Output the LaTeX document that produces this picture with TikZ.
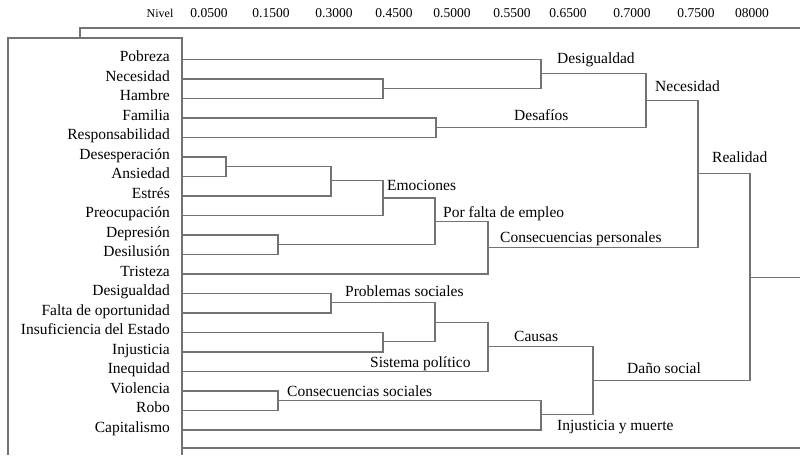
\documentclass[tikz,border=0pt]{standalone}
\usepackage{fontspec}
\setmainfont{Liberation Serif}
\usepackage{tikz}
\usetikzlibrary{calc,positioning}

\tikzset{
  rama/.style={draw=black!55, line width=1.1pt},
  hoja/.style={anchor=mid east, inner sep=0pt, font=\fontsize{15.5}{18}\selectfont},
  grupo/.style={anchor=base west, inner sep=0pt, font=\fontsize{15.5}{18}\selectfont},
  nivel/.style={anchor=base, inner sep=0pt, font=\fontsize{13.5}{15}\selectfont}
}

\begin{document}
\begin{tikzpicture}[x=1pt, y=-1pt]
\useasboundingbox (0,0) rectangle (800,455);

% Nivel
\node[nivel, font=\fontsize{12}{14}\selectfont] (niv) at (160,17) {Nivel};
\foreach \t/\xx [count=\k] in {0.0500/209, 0.1500/271, 0.3000/334, 0.4500/394, 0.5000/452,
  0.5500/512, 0.6500/568, 0.7000/632, 0.7500/696, 08000/752}
  \node[nivel] (n\k) at (\xx,17) {\t};

% Marco
\draw[rama] (8,455) -- (8,38) -- (182,38) -- (182,455);
\draw[rama] (80,38) -- (80,28) -- (800,28);
\draw[rama] (182,448) -- (800,448);

% Hojas
\foreach \t [count=\i] in {Pobreza, Necesidad, Hambre, Familia, Responsabilidad,
  Desesperación, Ansiedad, Estrés, Preocupación, Depresión, Desilusión, Tristeza,
  Desigualdad, Falta de oportunidad, Insuficiencia del Estado, Injusticia, Inequidad,
  Violencia, Robo, Capitalismo}
{
  \node[hoja] (h\i) at (170,{59.5+19.5*(\i-1)}) {\t};
  \coordinate (r\i) at (182,{59.5+19.5*(\i-1)});
}

% Uniones
\coordinate (a) at (226,166.25);
\coordinate (b) at (331,180.9);
\coordinate (c) at (383,198);
\coordinate (d) at (278,244.25);
\coordinate (e) at (435,221.1);
\coordinate (f) at (488,247.3);
\coordinate (g) at (383,88.25);
\coordinate (hh) at (541,73.6);
\coordinate (ii) at (436,127.25);
\coordinate (j) at (646,100.4);
\coordinate (k) at (698,173.9);
\coordinate (l) at (331,302.75);
\coordinate (m) at (383,341.75);
\coordinate (nn) at (435,322.25);
\coordinate (o) at (488,346.6);
\coordinate (p) at (278,400.25);
\coordinate (q) at (541,414.9);
\coordinate (rr) at (593,380.75);
\coordinate (s) at (750,277.3);
\coordinate (fin) at (800,277.3);

\draw[rama] (r6) -| (a) |- (r7);
\draw[rama] (a) -| (b) |- (r8);
\draw[rama] (b) -| (c) |- (r9);
\draw[rama] (r10) -| (d) |- (r11);
\draw[rama] (c) -| (e) |- (d);
\draw[rama] (e) -| (f) |- (r12);
\draw[rama] (r2) -| (g) |- (r3);
\draw[rama] (r1) -| (hh) |- (g);
\draw[rama] (r4) -| (ii) |- (r5);
\draw[rama] (hh) -| (j) |- (ii);
\draw[rama] (j) -| (k) |- (f);
\draw[rama] (r13) -| (l) |- (r14);
\draw[rama] (r15) -| (m) |- (r16);
\draw[rama] (l) -| (nn) |- (m);
\draw[rama] (nn) -| (o) |- (r17);
\draw[rama] (r18) -| (p) |- (r19);
\draw[rama] (p) -| (q) |- (r20);
\draw[rama] (o) -| (rr) |- (q);
\draw[rama] (k) -| (s) |- (rr);
\draw[rama] (s) -- (fin);

% Grupos
\node[grupo] (g1) at (557,63) {Desigualdad};
\node[grupo] (g2) at (655,91) {Necesidad};
\node[grupo] (g3) at (514,120) {Desafíos};
\node[grupo] (g4) at (712,162) {Realidad};
\node[grupo] (g5) at (387,190) {Emociones};
\node[grupo] (g6) at (443,217) {Por falta de empleo};
\node[grupo] (g7) at (500,242) {Consecuencias personales};
\node[grupo] (g8) at (345,296) {Problemas sociales};
\node[grupo] (g9) at (370,367) {Sistema político};
\node[grupo] (g10) at (514,341) {Causas};
\node[grupo] (g11) at (287,396) {Consecuencias sociales};
\node[grupo] (g12) at (627,373) {Daño social};
\node[grupo] (g13) at (557,430) {Injusticia y muerte};
\end{tikzpicture}
\end{document}
